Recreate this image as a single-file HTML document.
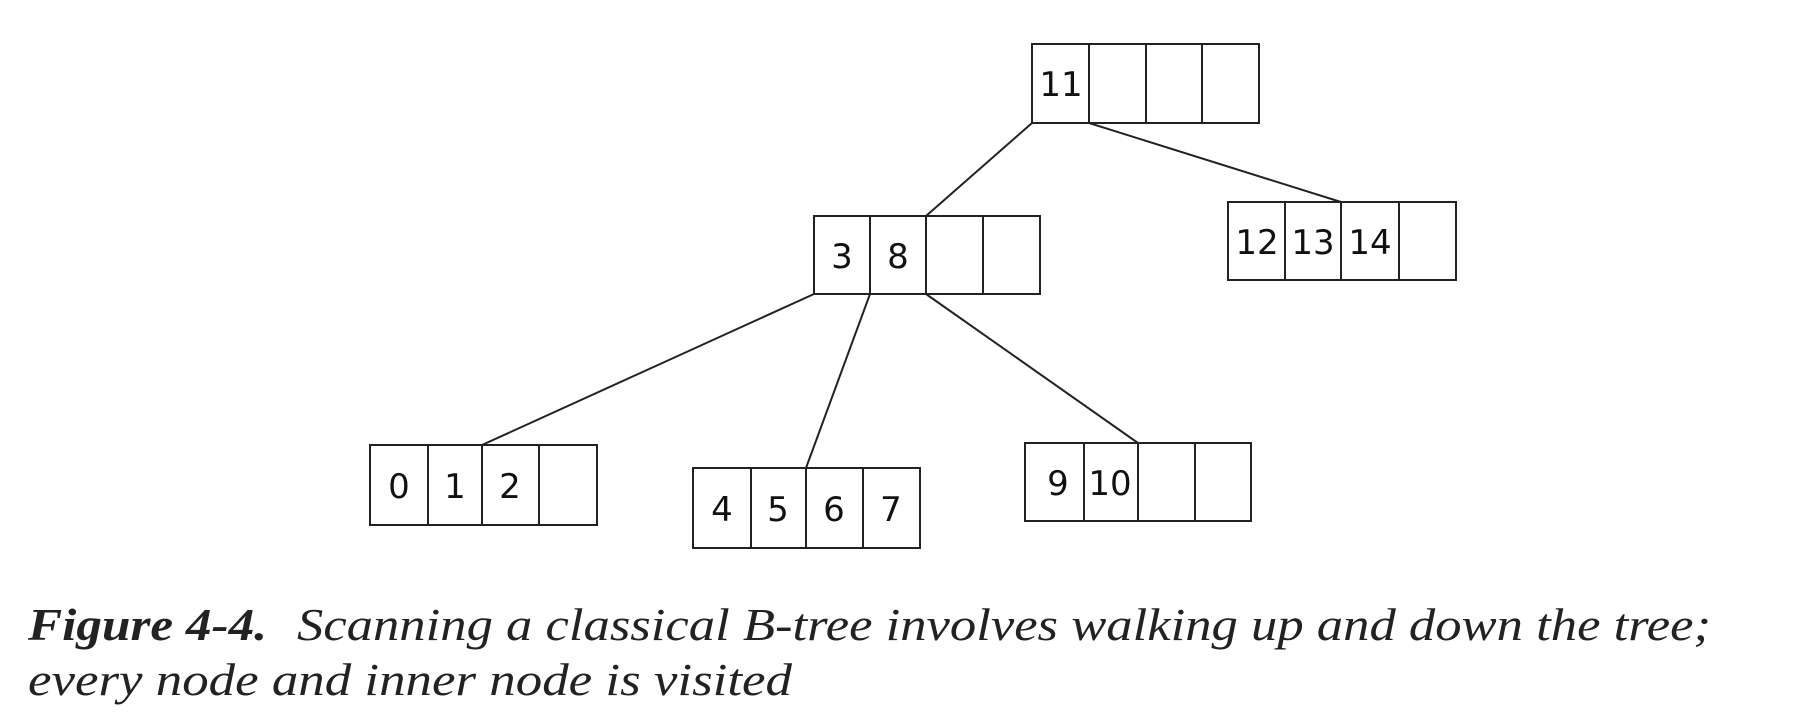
<!DOCTYPE html>
<html><head><style>
html,body{margin:0;padding:0;background:#fff;}
svg{display:block;}
</style></head><body>
<svg width="1800" height="722" viewBox="0 0 1800 722" xmlns="http://www.w3.org/2000/svg">
<g stroke="#222" stroke-width="2" fill="none">
  <line x1="1032" y1="123" x2="926" y2="216"/>
  <line x1="1089" y1="123" x2="1341" y2="202"/>
  <line x1="814" y1="294" x2="482" y2="445"/>
  <line x1="870" y1="294" x2="806" y2="468"/>
  <line x1="926" y1="294" x2="1138" y2="443"/>
  <!-- root -->
  <rect x="1032" y="44" width="227" height="79"/>
  <line x1="1089" y1="44" x2="1089" y2="123"/><line x1="1146" y1="44" x2="1146" y2="123"/><line x1="1202" y1="44" x2="1202" y2="123"/>
  <!-- 3 8 -->
  <rect x="814" y="216" width="226" height="78"/>
  <line x1="870" y1="216" x2="870" y2="294"/><line x1="926" y1="216" x2="926" y2="294"/><line x1="983" y1="216" x2="983" y2="294"/>
  <!-- 12 13 14 -->
  <rect x="1228" y="202" width="228" height="78"/>
  <line x1="1285" y1="202" x2="1285" y2="280"/><line x1="1341" y1="202" x2="1341" y2="280"/><line x1="1399" y1="202" x2="1399" y2="280"/>
  <!-- 0 1 2 -->
  <rect x="370" y="445" width="227" height="80"/>
  <line x1="428" y1="445" x2="428" y2="525"/><line x1="482" y1="445" x2="482" y2="525"/><line x1="539" y1="445" x2="539" y2="525"/>
  <!-- 4567 -->
  <rect x="693" y="468" width="227" height="80"/>
  <line x1="751" y1="468" x2="751" y2="548"/><line x1="806" y1="468" x2="806" y2="548"/><line x1="863" y1="468" x2="863" y2="548"/>
  <!-- 9 10 -->
  <rect x="1025" y="443" width="226" height="78"/>
  <line x1="1084" y1="443" x2="1084" y2="521"/><line x1="1138" y1="443" x2="1138" y2="521"/><line x1="1195" y1="443" x2="1195" y2="521"/>
</g>
<g font-family="DejaVu Sans, sans-serif" font-size="34" fill="#111" text-anchor="middle">
  <text x="1061" y="96">11</text>
  <text x="842" y="268">3</text><text x="898" y="268">8</text>
  <text x="1257" y="254">12</text><text x="1313" y="254">13</text><text x="1370" y="254">14</text>
  <text x="399" y="498">0</text><text x="455" y="498">1</text><text x="510" y="498">2</text>
  <text x="722" y="521">4</text><text x="778" y="521">5</text><text x="834" y="521">6</text><text x="891" y="521">7</text>
  <text x="1058" y="495">9</text><text x="1110" y="495">10</text>
</g>
<g font-family="Liberation Serif, serif" font-size="46" fill="#222">
  <text x="28" y="640" font-weight="bold" font-style="italic" textLength="239" lengthAdjust="spacingAndGlyphs">Figure 4-4.</text>
  <text x="297" y="640" font-style="italic" textLength="1414" lengthAdjust="spacingAndGlyphs">Scanning a classical B-tree involves walking up and down the tree;</text>
  <text x="28" y="695" font-style="italic" textLength="764" lengthAdjust="spacingAndGlyphs">every node and inner node is visited</text>
</g>
</svg>
</body></html>
